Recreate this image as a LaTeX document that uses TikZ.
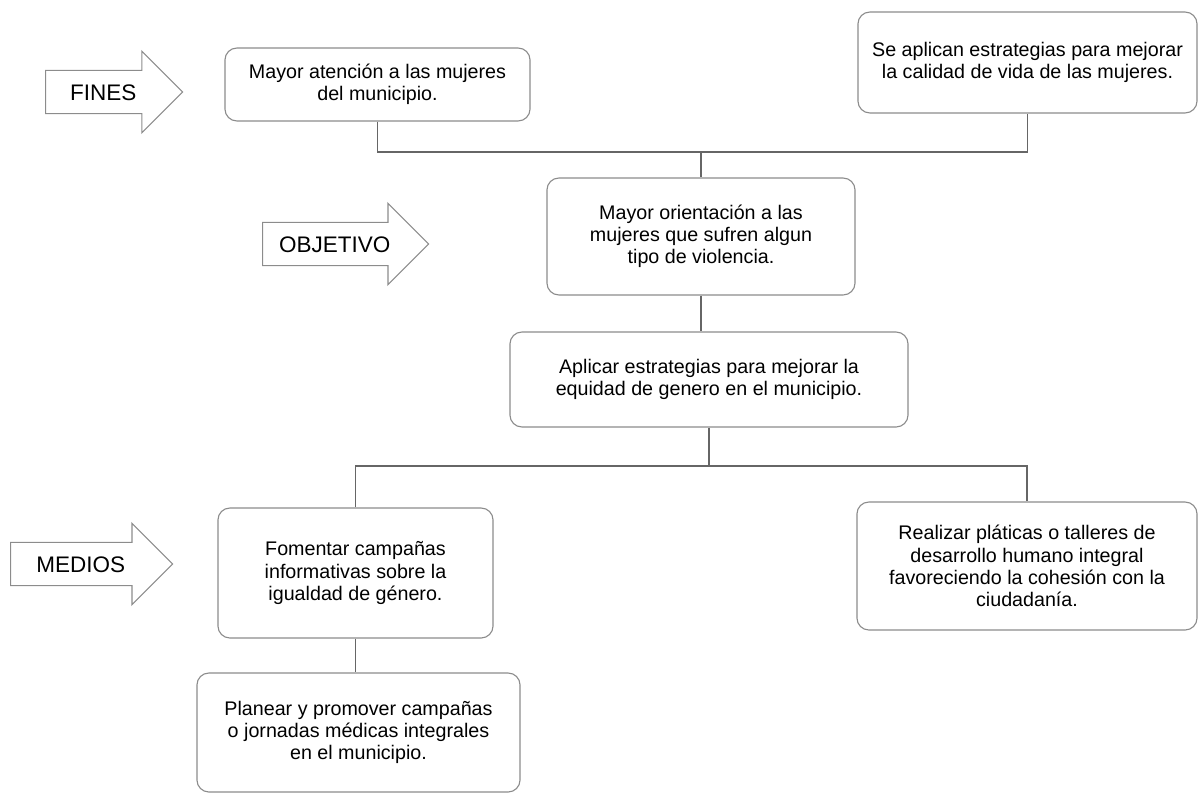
\documentclass[tikz,border=0pt]{standalone}
\usepackage{fontspec}
\setmainfont{Liberation Sans}
\usetikzlibrary{shapes, arrows, positioning}

\begin{document}
\begin{tikzpicture}[
		x=0.025cm, y=-0.025cm,
		box/.style={rectangle, draw=black!45, thick, rounded corners=0.3cm, align=center, font=\fontsize{14}{15.8}\selectfont},
		tag/.style={single arrow, draw=black!45, thick, single arrow head extend=0.475cm, text height=11.5pt, text depth=0pt, inner ysep=9.25pt, anchor=tail, font=\fontsize{16}{18}\selectfont},
		link/.style={draw=black!60, thick}
		]
		\useasboundingbox (0,0) rectangle (1204,795);
		
		% Fines
		\node[tag, minimum height=3.425cm] (fines) at (45,92) {FINES};
		\node[box, minimum width=7.625cm, minimum height=1.825cm] (fin1) at (377.5,84.5) {Mayor atención a las mujeres\\del municipio.};
		\node[box, minimum width=8.475cm, minimum height=2.525cm] (fin2) at (1027.5,62.5) {Se aplican estrategias para mejorar\\la calidad de vida de las mujeres.};
		
		% Objetivo
		\node[tag, minimum height=4.15cm] (objetivo) at (262,244) {OBJETIVO};
		\node[box, minimum width=7.7cm, minimum height=2.925cm] (obj) at (701,236.5) {Mayor orientación a las\\mujeres que sufren algun\\tipo de violencia.};
		\node[box, minimum width=9.95cm, minimum height=2.375cm] (est) at (709,379.5) {Aplicar estrategias para mejorar la\\equidad de genero en el municipio.};
		
		% Medios
		\node[tag, minimum height=4.05cm] (medios) at (10,564) {MEDIOS};
		\node[box, minimum width=6.875cm, minimum height=3.25cm] (med1) at (355.5,573) {Fomentar campañas\\informativas sobre la\\igualdad de género.};
		\node[box, minimum width=8.5cm, minimum height=3.2cm] (med2) at (1027,566) {Realizar pláticas o talleres de\\desarrollo humano integral\\favoreciendo la cohesión con la\\ciudadanía.};
		\node[box, minimum width=8.075cm, minimum height=2.975cm] (med3) at (358.5,732.5) {Planear y promover campañas\\o jornadas médicas integrales\\en el municipio.};
		
		% Connect them
		\coordinate (top) at (701,152);
		\draw[link] (fin1.south) |- (top) -| (fin2.south);
		\draw[link] (top) -- (obj.north);
		\draw[link] (obj.south) -- (obj.south |- est.north);
		\coordinate (low) at (709,466);
		\draw[link] (est.south) -- (low);
		\draw[link] (med1.north) |- (low) -| (med2.north);
		\draw[link] (med1.south) -- (med1.south |- med3.north);
	\end{tikzpicture}
\end{document}
